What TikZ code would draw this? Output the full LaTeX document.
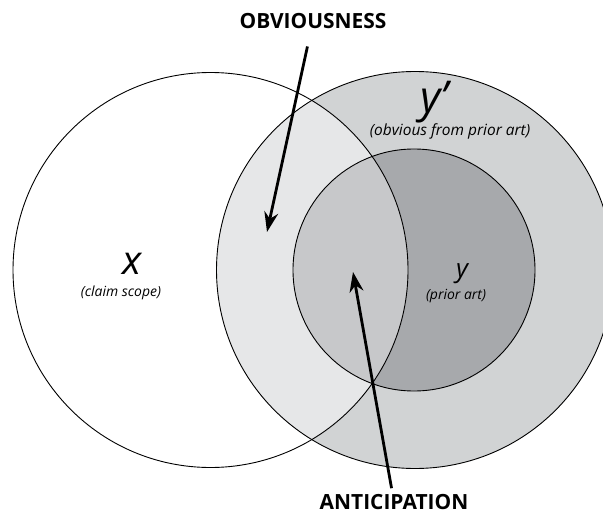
\documentclass[tikz,border=0pt]{standalone}
\usepackage{fontspec}
\setmainfont{Open Sans}
\usepackage{tikz}
\usetikzlibrary{arrows.meta}
\definecolor{priorouter}{HTML}{D1D3D4}
\definecolor{priorinner}{HTML}{A7A9AC}
\definecolor{overlapouter}{HTML}{E6E7E8}
\definecolor{overlapinner}{HTML}{C7C8CA}

\begin{document}
\begin{tikzpicture}[
    x=1bp, y=-1bp,
    setline/.style={draw=black, line width=0.9bp},
    caption/.style={font=\fontsize{21}{21}\selectfont\bfseries, inner sep=0pt},
    setname/.style={font=\itshape, inner sep=0pt},
    setnote/.style={font=\fontsize{14}{14}\selectfont\itshape, inner sep=0pt},
    pointer/.style={-{Stealth[length=20bp, width=14bp]}, line width=2.8bp}
  ]
    \useasboundingbox (0,0) rectangle (603,516);

    % set centres
    \coordinate (xc) at (210.5,270);
    \coordinate (ypc) at (415,270);
    \coordinate (yc) at (414,270);

    % shaded regions
    \fill[priorouter] (ypc) circle (198.5);
    \fill[priorinner] (yc) circle (121);
    \begin{scope}
      \clip (xc) circle (197.5);
      \fill[overlapouter] (ypc) circle (198.5);
      \fill[overlapinner] (yc) circle (121);
    \end{scope}

    % outlines
    \draw[setline] (xc) circle (197.5);
    \draw[setline] (ypc) circle (198.5);
    \draw[setline] (yc) circle (121);

    % labels
    \node[setname, font=\fontsize{40}{40}\selectfont\itshape] (xlabel) at (132,264) {x};
    \node[setnote] (xnote) at (121,293) {(claim scope)};
    \node[setname, font=\fontsize{44}{44}\selectfont\itshape] (yplabel) at (434,102) {y’};
    \node[setnote, font=\fontsize{15.5}{15.5}\selectfont\itshape] (ypnote) at (450,131) {(obvious from prior art)};
    \node[setname, font=\fontsize{26}{26}\selectfont\itshape] (ylabel) at (462,274) {y};
    \node[setnote] (ynote) at (456,296) {(prior art)};

    \node[caption] (obvious) at (313,21) {OBVIOUSNESS};
    \node[caption] (anticip) at (394,502) {ANTICIPATION};

    \coordinate (obvtip) at (267,232);
    \coordinate (antitip) at (353,272);

    \draw[pointer, shorten <=18bp] (obvious) -- (obvtip);
    \draw[pointer, shorten <=6bp] (anticip) -- (antitip);
  \end{tikzpicture}
\end{document}
